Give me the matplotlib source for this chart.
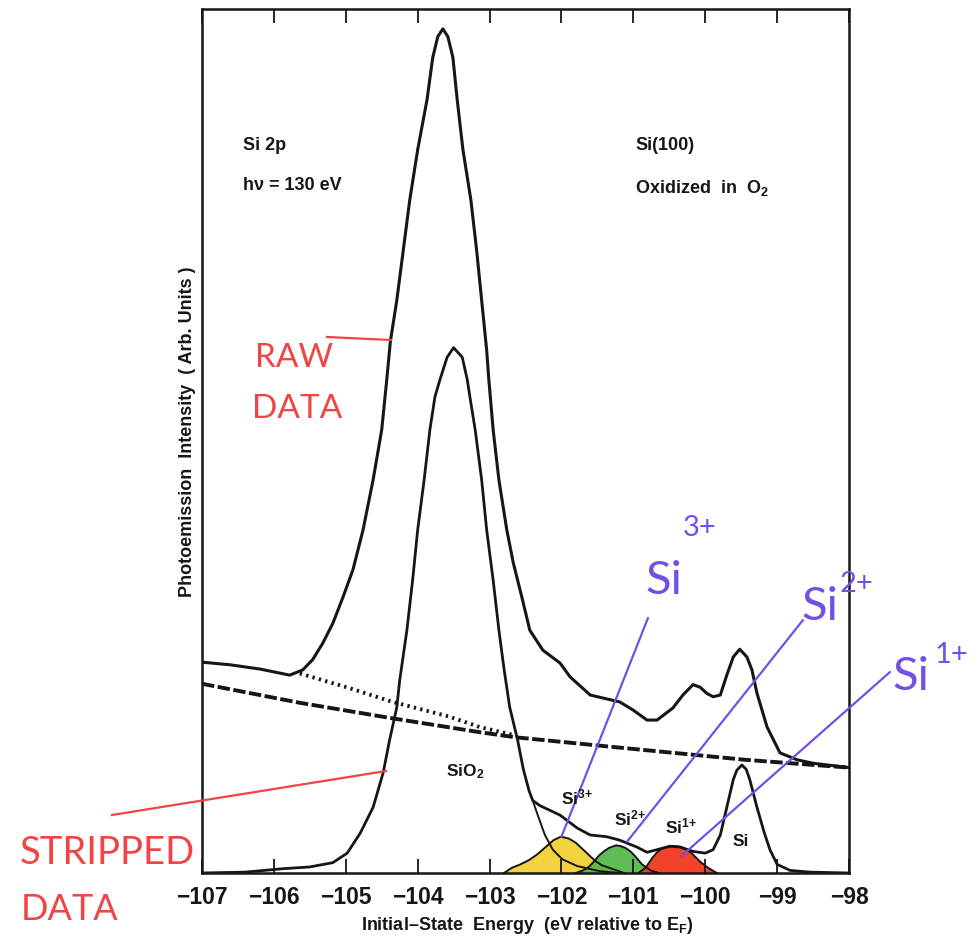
import matplotlib
matplotlib.use("Agg")
import matplotlib.pyplot as plt
from matplotlib.lines import Line2D

plt.rcParams["font.family"] = ["Liberation Sans", "DejaVu Sans"]
plt.rcParams["mathtext.fontset"] = "custom"
plt.rcParams["mathtext.rm"] = "Liberation Sans:bold"
plt.rcParams["mathtext.it"] = "Liberation Sans:bold"
plt.rcParams["mathtext.bf"] = "Liberation Sans:bold"

# ---- Si 2p spectrum, Si(100) oxidized in O2 (hv = 130 eV) ----
# raw photoemission data
raw_e = [-107.00, -106.61, -106.19, -105.78, -105.60, -105.46, -105.32, -105.18,
         -105.04, -104.90, -104.76, -104.62, -104.50, -104.43, -104.38, -104.29,
         -104.20, -104.11, -104.00, -103.87, -103.79, -103.72, -103.65, -103.58,
         -103.51, -103.45, -103.37, -103.26, -103.18, -103.11, -103.04, -103.01,
         -102.95, -102.87, -102.76, -102.67, -102.55, -102.44, -102.26, -102.02,
         -101.88, -101.60, -101.19, -101.01, -100.81, -100.67, -100.45, -100.31,
         -100.17, -100.07, -99.98, -99.89, -99.79, -99.70, -99.61, -99.52,
         -99.42, -99.35, -99.28, -99.14, -98.96, -98.72, -98.50, -98.00]
raw_i = [24.4, 24.1, 23.6, 22.9, 23.5, 24.7, 26.6, 28.9,
         31.9, 35.1, 39.7, 45.5, 51.3, 57.1, 61.5, 66.3,
         72.1, 77.9, 83.7, 89.5, 94.4, 96.8, 97.7, 96.8,
         94.4, 89.5, 83.7, 77.9, 72.1, 66.3, 60.5, 57.1,
         51.3, 45.5, 39.7, 35.9, 31.9, 28.1, 25.8, 24.3,
         22.7, 20.6, 19.8, 18.9, 17.7, 17.7, 19.1, 20.6,
         21.8, 21.5, 20.8, 20.4, 20.6, 22.9, 25.0, 25.9,
         25.0, 23.5, 20.8, 16.9, 13.9, 13.1, 12.7, 12.2]

# backgrounds
bg_dash_e = [-107.00, -105.64, -104.35, -103.14, -102.63, -101.30, -99.44, -98.00]
bg_dash_i = [21.9, 19.7, 17.9, 16.3, 15.7, 14.6, 13.1, 12.2]
bg_dot_e = [-105.64, -104.95, -104.35, -103.56, -103.14, -102.63]
bg_dot_i = [23.1, 21.4, 19.8, 18.1, 16.9, 15.9]

# background-stripped data
str_e = [-107.00, -106.40, -105.87, -105.50, -105.18, -104.98, -104.80, -104.62,
         -104.48, -104.39, -104.29, -104.25, -104.15, -104.07, -104.00, -103.91,
         -103.83, -103.76, -103.69, -103.59, -103.50, -103.38, -103.31, -103.26,
         -103.20, -103.11, -103.04, -102.95, -102.87, -102.80, -102.72, -102.61,
         -102.53, -102.45, -102.40, -102.30, -102.02, -101.78, -101.60, -101.37,
         -101.19, -100.95, -100.81, -100.67, -100.49, -100.35, -100.17, -100.00,
         -99.89, -99.79, -99.70, -99.61, -99.56, -99.49, -99.43, -99.38,
         -99.28, -99.18, -99.10, -99.00, -98.82, -98.54, -98.00]
str_i = [0.0, 0.1, 0.5, 0.7, 1.2, 2.3, 4.6, 7.6,
         11.6, 15.4, 19.2, 22.3, 28.1, 33.9, 39.7, 45.5,
         51.3, 55.1, 57.1, 59.7, 60.8, 59.7, 57.1, 54.4,
         51.3, 45.5, 39.7, 33.9, 28.1, 23.7, 19.2, 15.4,
         12.0, 9.5, 8.4, 7.8, 6.7, 5.2, 4.4, 4.2,
         3.8, 3.0, 2.4, 2.7, 3.1, 3.0, 2.5, 2.3,
         2.7, 4.4, 7.6, 10.8, 11.9, 12.5, 12.0, 10.8,
         7.6, 4.7, 2.7, 1.0, 0.3, 0.1, 0.0]

# fitted components
sio2_tail_e = [-102.40, -102.33, -102.23, -102.12, -101.99, -101.78, -101.46, -101.19]
sio2_tail_i = [8.4, 6.7, 4.4, 2.7, 1.6, 0.8, 0.2, 0.0]

si3_e = [-102.80, -102.69, -102.57, -102.45, -102.33, -102.22, -102.11, -102.01,
         -101.90, -101.80, -101.71, -101.62, -101.53, -101.44, -101.30, -101.13]
si3_i = [0.0, 0.6, 1.0, 1.5, 2.2, 3.0, 3.8, 4.2,
         4.0, 3.5, 2.8, 2.1, 1.4, 0.9, 0.5, 0.0]

si2_e = [-101.80, -101.70, -101.62, -101.55, -101.48, -101.41, -101.34, -101.24,
         -101.17, -101.11, -101.04, -100.97, -100.88, -100.76, -100.65]
si2_i = [0.0, 0.3, 0.7, 1.3, 2.0, 2.5, 2.9, 3.2,
         3.1, 2.9, 2.5, 1.9, 1.0, 0.3, 0.0]

si1_e = [-100.93, -100.83, -100.74, -100.68, -100.61, -100.54, -100.47, -100.40,
         -100.33, -100.26, -100.19, -100.07, -99.96, -99.84]
si1_i = [0.0, 0.6, 1.7, 2.3, 2.8, 3.0, 3.1, 3.1,
         3.0, 2.7, 2.3, 1.3, 0.6, 0.0]

x_ticks = [-107, -106, -105, -104, -103, -102, -101, -100, -99, -98]

W, H = 980, 942


def fp(x, y):
    """pixel position (from top-left) -> figure fraction"""
    return x / W, 1 - y / H


fig = plt.figure(figsize=(W / 100, H / 100), dpi=100)
ax = fig.add_axes([202 / W, 1 - 873 / H, 647 / W, 864 / H])
ax.set_xlim(-107, -98)
ax.set_ylim(0, 100)

ink = "#161616"
# hand-coloured fit components
ax.fill_between(si3_e, si3_i, 0, color="#F3CF2E", alpha=0.92, lw=0, zorder=1)
ax.fill_between(si2_e, si2_i, 0, color="#52B848", alpha=0.92, lw=0, zorder=1.1)
ax.fill_between(si1_e, si1_i, 0, color="#F2381E", alpha=0.95, lw=0, zorder=1.2)
for e, i in [(si3_e, si3_i), (si2_e, si2_i), (si1_e, si1_i), (sio2_tail_e, sio2_tail_i)]:
    ax.plot(e, i, color=ink, lw=1.4, zorder=3, solid_joinstyle="round")

ax.plot(raw_e, raw_i, color=ink, lw=2.2, zorder=4, solid_joinstyle="round")
ax.plot(str_e, str_i, color=ink, lw=2.0, zorder=4, solid_joinstyle="round")
ax.plot(bg_dash_e, bg_dash_i, color=ink, lw=2.8, ls=(0, (3.2, 0.9)), zorder=3)
ax.plot(bg_dot_e, bg_dot_i, color=ink, lw=2.8, ls=(0, (0.6, 1.1)), zorder=3)

ax.set_xticks(x_ticks)
ax.set_xticklabels([f"\u2212{abs(t)}" for t in x_ticks])
ax.tick_params(axis="x", direction="in", length=10, width=1.3, top=True,
               labelsize=16.5, pad=9, colors=ink)
for lab in ax.get_xticklabels():
    lab.set_fontweight("bold")
ax.set_yticks([])
for s in ax.spines.values():
    s.set_linewidth(1.8)
    s.set_color(ink)

# printed labels
txt = dict(color=ink, fontsize=13, va="center", ha="left", fontweight="bold")
fig.text(*fp(243, 145), "Si 2p", **txt)
fig.text(*fp(243, 186), "h\u03bd = 130 eV", **txt)
fig.text(*fp(635, 145), "Si(100)", **txt)
fig.text(*fp(635, 188), "Oxidized  in  O$_2$", **txt)
lbl = dict(color=ink, fontsize=12.5, ha="center", va="center", fontweight="bold")
fig.text(*fp(465, 772), "SiO$_2$", **lbl)
fig.text(*fp(577, 797), "Si$^{3{+}}$", **lbl)
fig.text(*fp(630, 818), "Si$^{2{+}}$", **lbl)
fig.text(*fp(681, 826), "Si$^{1{+}}$", **lbl)
fig.text(*fp(741, 842), "Si", **lbl)
fig.text(*fp(527, 926), "Initial\u2013State  Energy  (eV relative to E$_F$)",
         color=ink, fontsize=13, ha="center", va="center", fontweight="bold")
fig.text(*fp(187, 432), "Photoemission  Intensity  ( Arb. Units )", color=ink,
         fontsize=13, ha="center", va="center", rotation=90, fontweight="bold")

# handwritten notes
purple = "#7050E6"
hand = dict(family=["Lato", "DejaVu Sans"])
fig.text(*fp(645, 581), "Si", color=purple, fontsize=34, ha="left", va="center", **hand)
fig.text(*fp(683, 528), "3+", color=purple, fontsize=21, ha="left", va="center", **hand)
fig.text(*fp(801, 607), "Si", color=purple, fontsize=34, ha="left", va="center", **hand)
fig.text(*fp(840, 584), "2+", color=purple, fontsize=21, ha="left", va="center", **hand)
fig.text(*fp(892, 677), "Si", color=purple, fontsize=34, ha="left", va="center", **hand)
fig.text(*fp(935, 655), "1+", color=purple, fontsize=21, ha="left", va="center", **hand)

leaders = [((-102.0, 4.2), (648, 618)), ((-101.09, 3.6), (803, 620)), ((-100.34, 1.9), (890, 672))]
for xy, p in leaders:
    ax.annotate("", xy=xy, xycoords="data", xytext=fp(*p), textcoords="figure fraction",
                arrowprops=dict(arrowstyle="-", color=purple, lw=1.6, shrinkA=0, shrinkB=0),
                zorder=6)

red = "#F04545"
fig.text(*fp(294, 358), "RAW", color=red, fontsize=24, ha="center", va="center", **hand)
fig.text(*fp(297, 409), "DATA", color=red, fontsize=24, ha="center", va="center", **hand)
fig.text(*fp(107, 853), "STRIPPED", color=red, fontsize=27.5, ha="center", va="center", **hand)
fig.text(*fp(70, 910), "DATA", color=red, fontsize=26, ha="center", va="center", **hand)
for (x0, y0), (x1, y1) in [((327, 337), (391, 340)), ((112, 815), (386, 771))]:
    a, b = fp(x0, y0)
    c, d = fp(x1, y1)
    fig.add_artist(Line2D([a, c], [b, d], transform=fig.transFigure, color=red, lw=1.6))

fig.savefig("out.png", dpi=100, facecolor="white")
